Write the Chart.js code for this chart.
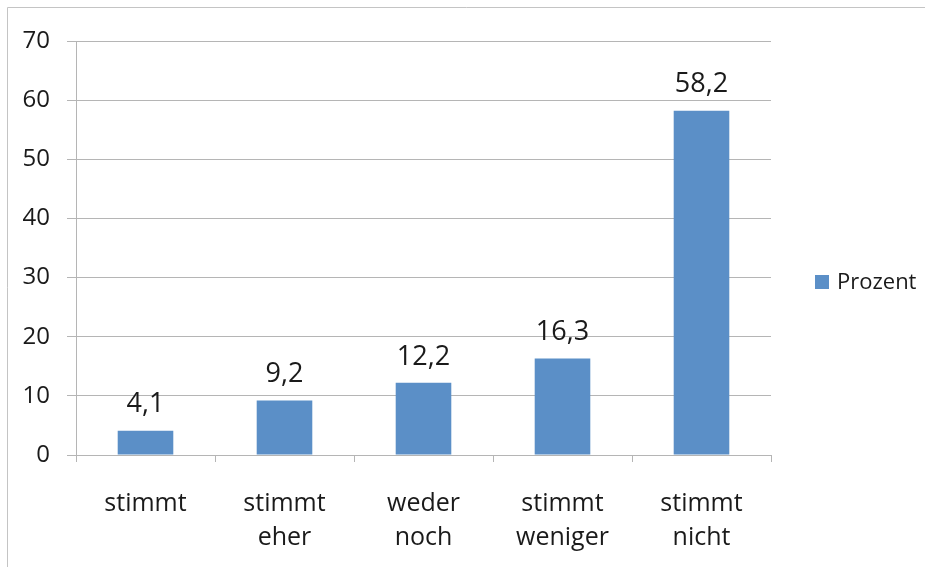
<!DOCTYPE html>
<html>
<head>
<meta charset="utf-8">
<script src="https://cdn.jsdelivr.net/npm/chart.js@4/dist/chart.umd.min.js"></script>
<style>
  html, body { margin: 0; padding: 0; background: #fff; }
  #wrap { position: relative; width: 925px; height: 567px; }
  canvas { display: block; }
</style>
</head>
<body>
<div id="wrap"><canvas id="c" width="925" height="567"></canvas></div>
<script>
// Survey answers and their share in percent
const categories = [
  ['stimmt'],
  ['stimmt', 'eher'],
  ['weder', 'noch'],
  ['stimmt', 'weniger'],
  ['stimmt', 'nicht']
];
const seriesName = 'Prozent';
const values = [4.1, 9.2, 12.2, 16.3, 58.2];
const yMax = 70;
const yStep = 10;

const FONT = '"Open Sans", "DejaVu Sans", sans-serif';
const TEXT = '#1a1a1a';
const GRID = '#b5b5b5';
const BAR = '#5b8fc7';

const fmt = v => v.toFixed(1).replace('.', ',');

// Outer frame, value labels above the bars and the legend on the right
const decor = {
  id: 'decor',
  beforeDraw(chart) {
    const ctx = chart.ctx;
    ctx.save();
    ctx.fillStyle = '#fff';
    ctx.fillRect(0, 0, chart.width, chart.height);
    ctx.strokeStyle = '#c4c4c4';
    ctx.lineWidth = 1;
    ctx.beginPath();
    ctx.moveTo(7.5, chart.height + 5);
    ctx.lineTo(7.5, 7.5);
    ctx.lineTo(chart.width + 5, 7.5);
    ctx.stroke();
    ctx.restore();
  },
  afterDatasetsDraw(chart) {
    const ctx = chart.ctx;
    const ds = chart.data.datasets[0];
    const meta = chart.getDatasetMeta(0);
    ctx.save();
    ctx.font = '27px ' + FONT;
    ctx.fillStyle = TEXT;
    ctx.textAlign = 'center';
    ctx.textBaseline = 'middle';
    meta.data.forEach((bar, i) => {
      ctx.fillText(fmt(ds.data[i]), bar.x, bar.y - 26);
    });
    // legend
    const lx = 815, ly = 282;
    ctx.fillStyle = ds.backgroundColor;
    ctx.fillRect(lx, ly - 7, 14, 14);
    ctx.fillStyle = TEXT;
    ctx.font = '22px ' + FONT;
    ctx.textAlign = 'left';
    ctx.fillText(ds.label, lx + 22, ly + 1);
    ctx.restore();
  }
};

new Chart(document.getElementById('c'), {
  type: 'bar',
  data: {
    labels: categories,
    datasets: [{
      label: seriesName,
      data: values,
      backgroundColor: BAR,
      borderWidth: 0,
      barPercentage: 0.4,
      categoryPercentage: 1
    }]
  },
  options: {
    responsive: false,
    animation: false,
    devicePixelRatio: 1,
    layout: { padding: { left: 0, top: 41, right: 925 - 771, bottom: 0 } },
    plugins: {
      legend: { display: false },
      tooltip: { enabled: false }
    },
    scales: {
      x: {
        afterFit(scale) { scale.height = 567 - 455; },
        grid: {
          drawOnChartArea: false,
          drawTicks: true,
          tickLength: 7,
          color: GRID,
          offset: true
        },
        border: { color: GRID, width: 1 },
        ticks: {
          color: TEXT,
          padding: 25,
          maxRotation: 0,
          autoSkip: false,
          font: { family: FONT, size: 25, lineHeight: 1.36 }
        }
      },
      y: {
        min: 0,
        max: yMax,
        afterFit(scale) { scale.width = 76; },
        grid: {
          color: GRID,
          lineWidth: 1,
          drawTicks: true,
          tickLength: 9
        },
        border: { color: GRID, width: 1 },
        ticks: {
          stepSize: yStep,
          color: TEXT,
          padding: 17,
          font: { family: FONT, size: 24 }
        }
      }
    }
  },
  plugins: [decor]
});
</script>
</body>
</html>
